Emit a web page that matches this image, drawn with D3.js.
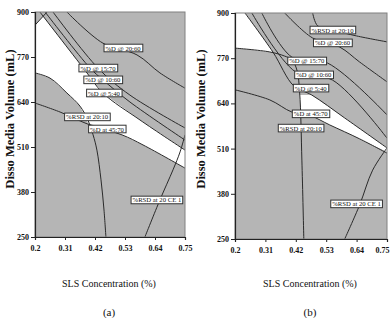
<!DOCTYPE html>
<html><head><meta charset="utf-8">
<script src="https://cdn.jsdelivr.net/npm/d3@7"></script>
<style>
html,body{margin:0;padding:0;background:#fff;}
svg{display:block;}
text{font-family:"Liberation Serif","Times New Roman",serif;fill:#111;}
</style></head>
<body>
<svg id="chart" width="390" height="318"></svg>
<script>
// ---------- data (SLS %, volume mL) ----------
const xTicks = [0.2, 0.31, 0.42, 0.53, 0.64, 0.75];
const yTicks = [250, 380, 510, 640, 770, 900];
const xTitle = "SLS Concentration (%)";
const yTitle = "Disso Media Volume (mL)";

// panel (a) contours
const aD20_60   = [[0.317,900],[0.449,810],[0.574,776],[0.658,724],[0.75,680]];
const aD15_70   = [[0.266,900],[0.431,738],[0.548,660],[0.75,565]];
const aD10_60   = [[0.237,900],[0.402,738],[0.449,704],[0.548,640],[0.75,530]];
const aD5_40    = [[0.218,900],[0.383,732],[0.449,666],[0.585,588],[0.75,501]];
const aCorner   = [[0.2,862],[0.244,900]];
const aRSD20_10 = [[0.2,724],[0.255,709],[0.317,666],[0.365,628],[0.394,588],[0.413,545],[0.427,501],[0.442,415],[0.453,328],[0.46,250]];
const aD45_70   = [[0.2,637],[0.292,611],[0.394,576],[0.519,545],[0.596,516],[0.75,449]];
const aRSD_CE   = [[0.603,250],[0.658,357],[0.706,444],[0.732,496],[0.75,545]];
const aWhite = [
  [[0.2,862],[0.229,888],[0.383,732],[0.449,666],[0.585,588],[0.75,501],[0.75,449],[0.596,516],[0.519,545],[0.394,579],[0.365,628],[0.317,666],[0.255,709],[0.2,724]]
];
const aLabels = [
  ["%D @ 20:60",[0.523,796]],
  ["%D @ 15:70",[0.431,738]],
  ["%D @ 10:60",[0.449,704]],
  ["%D @ 5:40",[0.453,666]],
  ["%RSD at 20:10",[0.391,597]],
  ["%D at 45:70",[0.464,562]],
  ["%RSD at 20 CE 1",[0.647,357]]
];

// panel (b) contours
const bRSDtop   = [[0.481,900],[0.499,863],[0.553,851],[0.64,834],[0.75,817]];
const bD20_60   = [[0.38,900],[0.481,828],[0.579,802],[0.651,759],[0.75,702]];
const bD15_70   = [[0.297,900],[0.406,773],[0.535,756],[0.75,607]];
const bD10_60   = [[0.261,900],[0.42,730],[0.553,707],[0.75,540]];
const bD5_40    = [[0.236,900],[0.337,788],[0.413,690],[0.478,664],[0.597,598],[0.75,512]];
const bRSD20_10 = [[0.2,799],[0.326,788],[0.38,776],[0.406,765],[0.424,736],[0.434,670],[0.442,477],[0.449,250]];
const bD45_70   = [[0.2,679],[0.326,650],[0.406,615],[0.474,604],[0.543,578],[0.651,538],[0.75,497]];
const bRSD_CE   = [[0.597,250],[0.651,348],[0.698,448],[0.75,512]];
const bWhite = [
  [[0.2,900],[0.236,900],[0.337,788],[0.326,788],[0.2,799]],
  [[0.434,664],[0.478,664],[0.597,598],[0.75,512],[0.75,500],[0.651,538],[0.543,578],[0.474,604],[0.438,615]]
];
const bLabels = [
  ["%RSD at 20:10",[0.553,851]],
  ["%D @ 20:60",[0.553,814]],
  ["%D @ 15:70",[0.46,762]],
  ["%D @ 10:60",[0.485,722]],
  ["%D @ 5:40",[0.474,684]],
  ["%D at 45:70",[0.474,610]],
  ["%RSD at 20:10",[0.438,569]],
  ["%RSD at 20 CE 1",[0.64,351]]
];

const panels = [
  {tag:"(a)", x0:35, x1:185, y0:12, y1:237, yTitleX:10,
   lines:[aD20_60,aD15_70,aD10_60,aD5_40,aCorner,aRSD20_10,aD45_70,aRSD_CE], white:aWhite, labels:aLabels},
  {tag:"(b)", x0:235, x1:387, y0:13, y1:239, yTitleX:201,
   lines:[bRSDtop,bD20_60,bD15_70,bD10_60,bD5_40,bRSD20_10,bD45_70,bRSD_CE], white:bWhite, labels:bLabels}
];

const svg = d3.select("#chart");
const defs = svg.append("defs");
const W = 390;

panels.forEach((p, i) => {
  const x = d3.scaleLinear().domain([0.2, 0.75]).range([p.x0, p.x1]);
  const y = d3.scaleLinear().domain([250, 900]).range([p.y1, p.y0]);
  const clipId = "clip" + i;
  defs.append("clipPath").attr("id", clipId).append("rect")
    .attr("x", p.x0).attr("y", p.y0).attr("width", p.x1 - p.x0).attr("height", p.y1 - p.y0);

  const g = svg.append("g");
  const plot = g.append("g").attr("clip-path", `url(#${clipId})`);
  plot.append("rect").attr("x", p.x0).attr("y", p.y0)
    .attr("width", p.x1 - p.x0).attr("height", p.y1 - p.y0).attr("fill", "#b5b5b5");

  const area = d3.line().x(d => x(d[0])).y(d => y(d[1])).curve(d3.curveLinearClosed);
  plot.selectAll("path.white").data(p.white).join("path").attr("class","white")
    .attr("d", area).attr("fill", "#ffffff").attr("stroke", "none");

  const line = d3.line().x(d => x(d[0])).y(d => y(d[1])).curve(d3.curveCatmullRom.alpha(0.5));
  plot.selectAll("path.ct").data(p.lines).join("path").attr("class","ct")
    .attr("d", line).attr("fill", "none").attr("stroke", "#2a2a2a").attr("stroke-width", 1);

  // frame
  g.append("rect").attr("x", p.x0).attr("y", p.y0)
    .attr("width", p.x1 - p.x0).attr("height", p.y1 - p.y0)
    .attr("fill", "none").attr("stroke", "#808080").attr("stroke-width", 1);

  // axes
  const ax = g.append("g").attr("transform", `translate(0,${p.y1})`)
    .call(d3.axisBottom(x).tickValues(xTicks).tickFormat(d => d).tickSize(3).tickPadding(5));
  const ay = g.append("g").attr("transform", `translate(${p.x0},0)`)
    .call(d3.axisLeft(y).tickValues(yTicks).tickSize(4).tickPadding(2));
  [ax, ay].forEach(a => {
    a.select(".domain").attr("stroke", "#222").attr("stroke-width", 1.2);
    a.selectAll(".tick line").attr("stroke", "#222");
    a.selectAll(".tick text").attr("font-family", '"Liberation Serif",serif')
      .attr("font-size", 8).attr("font-weight", "bold").attr("fill", "#222");
  });
  // keep last tick label inside the page
  ax.selectAll(".tick text").each(function(d) {
    const bb = this.getBBox();
    const sx = x(d);
    if (sx + bb.width / 2 > W - 1) {
      d3.select(this).attr("text-anchor", "end").attr("x", W - 1 - sx);
    }
  });

  // labels
  const lab = g.append("g").attr("clip-path", `url(#${clipId})`);
  p.labels.forEach(([txt, pos]) => {
    const t = lab.append("text").attr("x", x(pos[0])).attr("y", y(pos[1]))
      .attr("text-anchor", "middle").attr("dominant-baseline", "central")
      .attr("font-size", 6.7).attr("fill", "#222").text(txt);
    const bb = t.node().getBBox();
    lab.insert("rect", () => t.node())
      .attr("x", bb.x - 1.5).attr("y", bb.y - 0.3)
      .attr("width", bb.width + 3).attr("height", bb.height + 0.6)
      .attr("fill", "#fff").attr("stroke", "#333").attr("stroke-width", 1);
  });

  // titles
  const cx = (p.x0 + p.x1) / 2;
  g.append("text").attr("x", cx - 1).attr("y", 287).attr("text-anchor", "middle")
    .attr("font-size", 10).attr("fill", "#111").text(xTitle);
  g.append("text").attr("x", cx - 1).attr("y", 316).attr("text-anchor", "middle")
    .attr("font-size", 11).attr("fill", "#111").text(p.tag);
  g.append("text").attr("transform", `translate(${p.yTitleX},119) rotate(-90)`)
    .attr("text-anchor", "middle").attr("dominant-baseline", "central")
    .attr("font-size", 12.5).attr("font-weight", "bold").attr("fill", "#111").text(yTitle);
});
</script>
</body></html>
